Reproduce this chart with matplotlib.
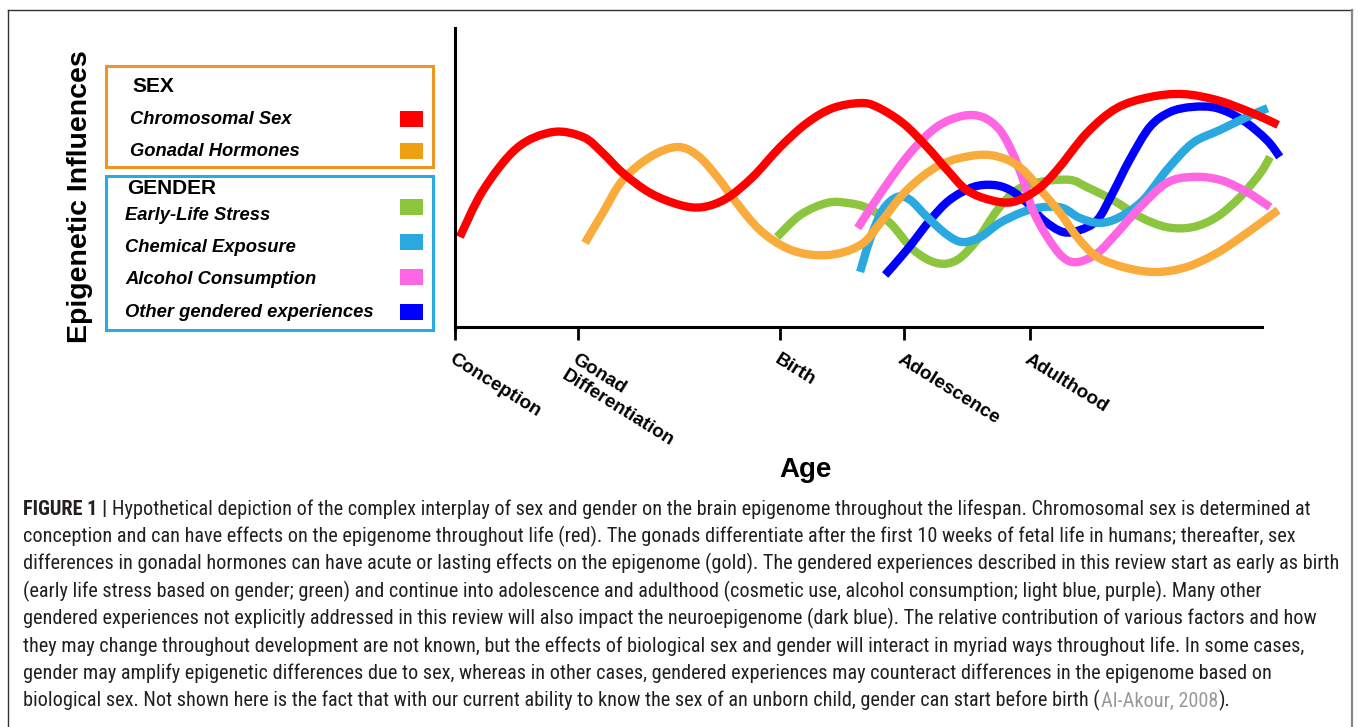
import matplotlib
matplotlib.use('Agg')
import matplotlib.pyplot as plt
from matplotlib import font_manager
from matplotlib.patches import Rectangle, PathPatch
from matplotlib.lines import Line2D
from matplotlib.path import Path

# ---------------- data ----------------
stage_labels = ['Conception', 'Gonad\nDifferentiation', 'Birth', 'Adolescence', 'Adulthood']
stage_positions = [0, 15.2, 40.3, 55.6, 71.3]

chromosomal_x = [0.6, 3.5, 7.7, 12.1, 15.9, 18.3, 20.8, 24.2, 27.9, 30.7, 33.7, 36.9, 40.3, 43.6,
                 46.8, 50.2, 52.3, 55.5, 58.5, 61.0, 63.4, 66.3, 69.1, 72.1, 74.6, 78.3, 82.0,
                 86.1, 90.2, 94.4, 98.5, 102.0]
chromosomal_y = [30.1, 45.8, 59.9, 65.2, 63.5, 58.2, 51.5, 44.8, 40.8, 40.1, 43.1, 50.2, 60.2, 68.2,
                 73.2, 74.9, 73.6, 68.2, 60.2, 52.5, 45.8, 42.5, 41.8, 45.8, 52.5, 64.9, 73.2,
                 76.9, 77.9, 75.9, 71.9, 67.6]

gonadal_x = [16.1, 18.3, 20.8, 24.2, 27.5, 30.0, 32.5, 34.9, 37.8, 41.1, 44.4, 47.7, 50.6, 52.7,
             56.0, 60.1, 64.7, 67.9, 70.4, 72.9, 75.0, 77.1, 79.6, 83.3, 87.0, 90.7, 94.4, 98.1, 102.0]
gonadal_y = [28.1, 38.1, 49.2, 56.9, 60.2, 57.5, 50.2, 41.5, 32.4, 26.4, 24.1, 24.7, 28.1, 34.8,
             45.8, 54.2, 57.5, 56.5, 52.5, 44.8, 38.1, 30.1, 23.4, 19.7, 18.4, 20.1, 24.7, 31.4, 39.1]

stress_x = [39.9, 42.8, 46.1, 48.6, 51.1, 53.9, 56.8, 59.7, 62.2, 64.7, 67.2, 69.6, 72.5, 76.2,
            78.3, 81.5, 84.9, 88.2, 91.4, 94.4, 97.3, 99.8, 101.0]
stress_y = [30.1, 37.5, 41.5, 41.5, 39.8, 34.8, 25.8, 21.4, 22.4, 29.1, 39.1, 45.8, 48.5, 49.2,
            46.8, 42.5, 36.8, 33.4, 33.4, 36.8, 43.5, 51.5, 56.9]

chemical_x = [50.2, 51.4, 53.0, 54.8, 56.4, 58.5, 61.0, 62.9, 65.1, 67.5, 70.4, 72.9, 75.3, 77.4,
              79.9, 82.4, 85.3, 88.2, 91.4, 94.8, 98.1, 100.7]
chemical_y = [18.4, 29.1, 39.1, 43.5, 42.5, 36.8, 30.8, 28.4, 30.1, 34.8, 38.5, 40.1, 39.8, 36.5,
              34.8, 36.8, 42.5, 52.5, 61.5, 65.9, 70.2, 73.2]

alcohol_x = [49.9, 53.0, 56.4, 59.7, 62.9, 65.4, 67.5, 69.1, 70.4, 71.6, 73.4, 75.3, 77.1, 79.6,
             82.0, 84.9, 88.2, 91.4, 94.8, 98.1, 101.0]
alcohol_y = [33.1, 45.8, 58.2, 66.9, 70.6, 70.2, 65.9, 58.2, 49.2, 39.1, 30.1, 23.4, 21.7, 24.7,
             31.4, 40.1, 48.2, 50.2, 49.2, 45.2, 40.1]

other_x = [53.3, 56.0, 58.9, 61.3, 64.2, 66.7, 68.8, 70.9, 72.9, 75.3, 77.4, 79.6, 81.5, 83.6,
           86.1, 88.6, 91.4, 94.4, 97.6, 100.6, 102.2]
other_y = [17.4, 25.8, 35.8, 42.5, 46.8, 47.5, 45.8, 41.5, 35.8, 31.8, 32.4, 35.8, 44.8, 55.9,
           66.9, 71.9, 73.6, 73.2, 69.2, 62.5, 56.9]

sex_labels = ['Chromosomal Sex', 'Gonadal Hormones']
gender_labels = ['Early-Life Stress', 'Chemical Exposure', 'Alcohol Consumption',
                 'Other gendered experiences']

caption_lines = [
    "Hypothetical depiction of the complex interplay of sex and gender on the brain epigenome throughout the lifespan. Chromosomal sex is determined at",
    "conception and can have effects on the epigenome throughout life (red). The gonads differentiate after the first 10 weeks of fetal life in humans; thereafter, sex",
    "differences in gonadal hormones can have acute or lasting effects on the epigenome (gold). The gendered experiences described in this review start as early as birth",
    "(early life stress based on gender; green) and continue into adolescence and adulthood (cosmetic use, alcohol consumption; light blue, purple). Many other",
    "gendered experiences not explicitly addressed in this review will also impact the neuroepigenome (dark blue). The relative contribution of various factors and how",
    "they may change throughout development are not known, but the effects of biological sex and gender will interact in myriad ways throughout life. In some cases,",
    "gender may amplify epigenetic differences due to sex, whereas in other cases, gendered experiences may counteract differences in the epigenome based on",
    "biological sex. Not shown here is the fact that with our current ability to know the sex of an unborn child, gender can start before birth (",
]
caption_label = "FIGURE 1 |"
citation = "Al-Akour, 2008"
citation_tail = ")."

# ---------------- styling ----------------
RED = '#FF0000'
GOLD = '#F9AB3B'
GREEN = '#8CC63F'
LBLUE = '#29A9E0'
PINK = '#FF66E3'
BLUE = '#0000FF'

W, H, DPI = 1358, 727, 100
fonts = font_manager.fontManager.ttflist
avail = {f.name for f in fonts}
SANS = 'Liberation Sans' if 'Liberation Sans' in avail else 'DejaVu Sans'
NARROW = None
for cand in ['Liberation Sans Narrow', 'Roboto Condensed', 'Open Sans Condensed',
             'Noto Sans Condensed', 'DejaVu Sans Condensed']:
    if cand in avail:
        NARROW = cand
        break
NARROW_STRETCH = 'normal'
if NARROW is None:
    cond = [f for f in fonts if str(f.stretch) in ('condensed', 'semi-condensed', '75', '87')
            and f.style == 'normal']
    if cond:
        NARROW = cond[0].name
        NARROW_STRETCH = 'condensed'
    else:
        NARROW = SANS
plt.rcParams['font.family'] = [SANS, 'DejaVu Sans']


def fx(px):
    return px / W


def fy(py):
    return 1 - py / H


def smooth_path(xs, ys):
    """Bezier path (rendered by matplotlib) passing through every read point."""
    pts = list(zip(xs, ys))
    n = len(pts)
    verts = [pts[0]]
    codes = [Path.MOVETO]
    for i in range(n - 1):
        p0 = pts[i - 1] if i > 0 else pts[i]
        p1 = pts[i]
        p2 = pts[i + 1]
        p3 = pts[i + 2] if i + 2 < n else pts[i + 1]
        c1 = (p1[0] + (p2[0] - p0[0]) / 6, p1[1] + (p2[1] - p0[1]) / 6)
        c2 = (p2[0] - (p3[0] - p1[0]) / 6, p2[1] - (p3[1] - p1[1]) / 6)
        verts += [c1, c2, p2]
        codes += [Path.CURVE4] * 3
    return Path(verts, codes)


fig = plt.figure(figsize=(W / DPI, H / DPI), dpi=DPI)
fig.patch.set_facecolor('white')

# outer frame
fig.add_artist(Line2D([fx(8), fx(1352)], [fy(10), fy(10)], color='#333333', lw=1.0))
fig.add_artist(Line2D([fx(8), fx(8)], [fy(10), fy(727)], color='#333333', lw=1.0))
fig.add_artist(Line2D([fx(1352), fx(1352)], [fy(10), fy(727)], color='#888888', lw=1.6))

# main axes
ax = fig.add_axes([fx(455), fy(327), 104 * 8.07 / W, (327 - 28) / H])
ax.set_xlim(0, 104)
ax.set_ylim(0, 100)
ax.patch.set_alpha(0)
for s in ['top', 'right']:
    ax.spines[s].set_visible(False)
ax.spines['left'].set_bounds(-1, 100)
ax.spines['bottom'].set_bounds(0, 100)
ax.spines['left'].set_linewidth(2.2)
ax.spines['bottom'].set_linewidth(2.2)
ax.set_yticks([])
ax.set_xticks(stage_positions)
ax.set_xticklabels(stage_labels, rotation=-32, ha='left', va='top', rotation_mode='anchor',
                   fontsize=13.7, fontweight='bold', multialignment='left')
ax.tick_params(axis='x', length=9, width=2, direction='out', pad=8)

series = [
    (stress_x, stress_y, GREEN),
    (other_x, other_y, BLUE),
    (chemical_x, chemical_y, LBLUE),
    (alcohol_x, alcohol_y, PINK),
    (gonadal_x, gonadal_y, GOLD),
    (chromosomal_x, chromosomal_y, RED),
]
for xs, ys, c in series:
    patch = PathPatch(smooth_path(xs, ys), fill=False, ec=c, lw=6, capstyle='butt',
                      joinstyle='round', transform=ax.transData, clip_on=False)
    ax.add_patch(patch)

# axis titles
fig.text(fx(80), fy(197), 'Epigenetic Influences', rotation=90, ha='center', va='center',
         fontsize=20.5, fontweight='bold')
fig.text(fx(805), fy(470), 'Age', ha='center', va='center', fontsize=20, fontweight='bold')

# legend boxes
fig.add_artist(Rectangle((fx(106), fy(167)), (433 - 106) / W, (167 - 66) / H, fill=False,
                         ec='#F29423', lw=2.2, transform=fig.transFigure))
fig.add_artist(Rectangle((fx(106), fy(330)), (433 - 106) / W, (330 - 176) / H, fill=False,
                         ec='#29ABE2', lw=2.2, transform=fig.transFigure))

fig.text(fx(132), fy(87), 'SEX', fontsize=15, fontweight='bold', va='center', ha='left')
fig.text(fx(127), fy(189), 'GENDER', fontsize=15, fontweight='bold', va='center', ha='left')

sex_colors = [RED, '#EE9F12']
sex_rows = [119, 151]
for lab, c, yy in zip(sex_labels, sex_colors, sex_rows):
    fig.text(fx(130), fy(yy), lab, fontsize=13.2, fontweight='bold', style='italic',
             va='center', ha='left')
    fig.add_artist(Rectangle((fx(400), fy(yy + 8)), 23 / W, 16 / H, fc=c, ec='none',
                             transform=fig.transFigure))

gender_colors = [GREEN, LBLUE, PINK, BLUE]
gender_rows = [216, 248, 280, 312]
swatch_rows = [207, 242, 277, 312]
for lab, c, yy, sy in zip(gender_labels, gender_colors, gender_rows, swatch_rows):
    fig.text(fx(125), fy(yy), lab, fontsize=13.2, fontweight='bold', style='italic',
             va='center', ha='left')
    fig.add_artist(Rectangle((fx(400), fy(sy + 8)), 23 / W, 16 / H, fc=c, ec='none',
                             transform=fig.transFigure))

# caption
renderer = fig.canvas.get_renderer()
probe = fig.text(0, 0, caption_lines[2], fontsize=14, family=NARROW, fontstretch=NARROW_STRETCH)
pw = probe.get_window_extent(renderer).width
probe.remove()
cap_size = 14 * (1342 - 23) / pw
TXT = '#231F20'


def put(xpx, ypx, s, **kw):
    t = fig.text(fx(xpx), fy(ypx), s, fontsize=cap_size, va='baseline', ha='left', **kw)
    return t, t.get_window_extent(renderer).width


base0 = 515
step = 27.4
for i, line in enumerate(caption_lines):
    yb = base0 + i * step
    x = 23
    if i == 0:
        _, w = put(x, yb, caption_label, family=[NARROW], fontstretch=NARROW_STRETCH,
                   fontweight='bold', color=TXT)
        x += w + cap_size * 0.35
    _, w = put(x, yb, line, family=[NARROW], fontstretch=NARROW_STRETCH, color=TXT)
    if i == len(caption_lines) - 1:
        x += w + 1
        _, w = put(x, yb, citation, family=[NARROW], fontstretch=NARROW_STRETCH,
                   color='#9A9A9A')
        x += w + 1
        put(x, yb, citation_tail, family=[NARROW], fontstretch=NARROW_STRETCH, color=TXT)

fig.savefig('out.png', dpi=DPI, facecolor='white')
